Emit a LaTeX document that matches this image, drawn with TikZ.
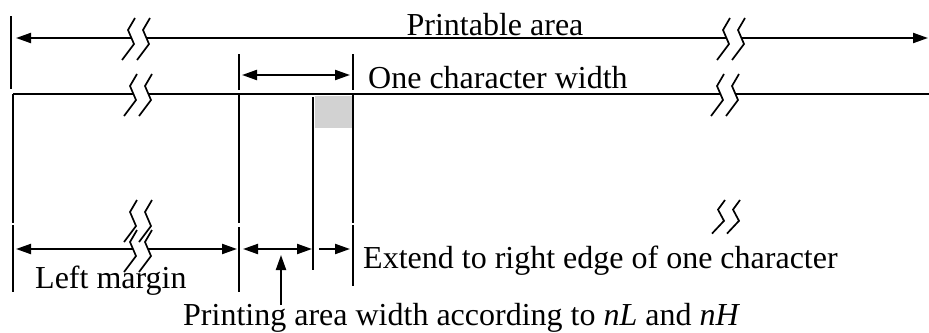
\documentclass[tikz,border=0pt]{standalone}
\usepackage{fontspec}
\setmainfont{Liberation Serif}
\usetikzlibrary{arrows.meta}

\tikzset{
  rule/.style={line width=2.1pt},
  mainrule/.style={line width=2.4pt},
  dim/.style={line width=2.1pt, {Triangle[length=15pt,width=10pt]}-{Triangle[length=15pt,width=10pt]}},
  dimr/.style={line width=2.1pt, -{Triangle[length=15pt,width=10pt]}},
  zig/.style={line width=1.7pt, line join=miter},
  label/.style={font=\fontsize{32}{38}\selectfont, inner sep=0pt, anchor=base west},
  shade/.style={fill=gray!35, draw=none, inner sep=0pt, minimum width=37pt, minimum height=32pt},
  % a break mark: two parallel zigzags
  brk/.pic={
    \draw[zig] (5,-20) -- (-2,-8) -- (4,6) -- (-8,22);
    \draw[zig] (20,-20) -- (13,-8) -- (19,6) -- (7,22);
  },
  % a break mark that also cuts the line it sits on
  brkcut/.pic={
    \fill[white] (5,-20) -- (-2,-8) -- (4,6) -- (-8,22) -- (7,22) -- (19,6) -- (13,-8) -- (20,-20) -- cycle;
    \draw[zig] (5,-20) -- (-2,-8) -- (4,6) -- (-8,22);
    \draw[zig] (20,-20) -- (13,-8) -- (19,6) -- (7,22);
  }
}

\begin{document}
\begin{tikzpicture}[x=1pt,y=-1pt]
\useasboundingbox (0,0) rectangle (929,332);

% ---- printable area ----
\coordinate (paTickT) at (11,16);
\coordinate (paTickB) at (11,89);
\coordinate (paL) at (16,38);
\coordinate (paR) at (928,38);
\draw[rule] (paTickT) -- (paTickB);
\draw[dim] (paL) -- (paR);
\node[label, anchor=base] (paText) at (495,35) {Printable area};
\pic at (130,38) {brkcut};
\pic at (725,38) {brkcut};

% ---- one character width ----
\coordinate (cwTickLT) at (239,54);
\coordinate (cwTickLB) at (239,90);
\coordinate (cwTickRT) at (353,54);
\coordinate (cwTickRB) at (353,90);
\coordinate (cwL) at (242,75);
\coordinate (cwR) at (350,75);
\draw[rule] (cwTickLT) -- (cwTickLB);
\draw[rule] (cwTickRT) -- (cwTickRB);
\draw[dim] (cwL) -- (cwR);
\node[label] (cwText) at (368,88) {One character width};

% ---- print line and columns ----
\coordinate (lineL) at (13,94);
\coordinate (lineR) at (929,94);
\draw[mainrule] (lineL) -- (lineR);
\pic at (132,94) {brkcut};
\pic at (719,94) {brkcut};

\node[shade] (cell) at (333.5,112) {};

\coordinate (c1T) at (13,94);   \coordinate (c1B) at (13,223);
\coordinate (c2T) at (239,94);  \coordinate (c2B) at (239,223);
\coordinate (c3T) at (313,97);  \coordinate (c3B) at (313,270);
\coordinate (c4T) at (353,94);  \coordinate (c4B) at (353,223);
\draw[rule] (c1T) -- (c1B);
\draw[rule] (c2T) -- (c2B);
\draw[rule] (c3T) -- (c3B);
\draw[rule] (c4T) -- (c4B);

% ---- lower dimension ticks ----
\coordinate (t1T) at (13,225);  \coordinate (t1B) at (13,292);
\coordinate (t2T) at (239,227); \coordinate (t2B) at (239,292);
\coordinate (t4T) at (353,225); \coordinate (t4B) at (353,286);
\draw[rule] (t1T) -- (t1B);
\draw[rule] (t2T) -- (t2B);
\draw[rule] (t4T) -- (t4B);

% ---- lower dimensions ----
\coordinate (lmL) at (16,249);  \coordinate (lmR) at (237,249);
\coordinate (pwL) at (243,249); \coordinate (pwR) at (312,249);
\coordinate (exL) at (319,249); \coordinate (exR) at (350,249);
\draw[dim] (lmL) -- (lmR);
\draw[dim] (pwL) -- (pwR);
\draw[dimr] (exL) -- (exR);
\pic at (132,250) {brkcut};
\pic at (132,220) {brk};
\pic[yscale=0.8] at (720,216) {brk};

\coordinate (upB) at (281,305);
\coordinate (upT) at (281,255);
\draw[dimr] (upB) -- (upT);

\node[label] (lmText) at (35,288) {Left margin};
\node[label] (exText) at (363,268) {Extend to right edge of one character};
\node[label] (pwText) at (183,325) {Printing area width according to \textit{nL} and \textit{nH}};
\end{tikzpicture}
\end{document}
